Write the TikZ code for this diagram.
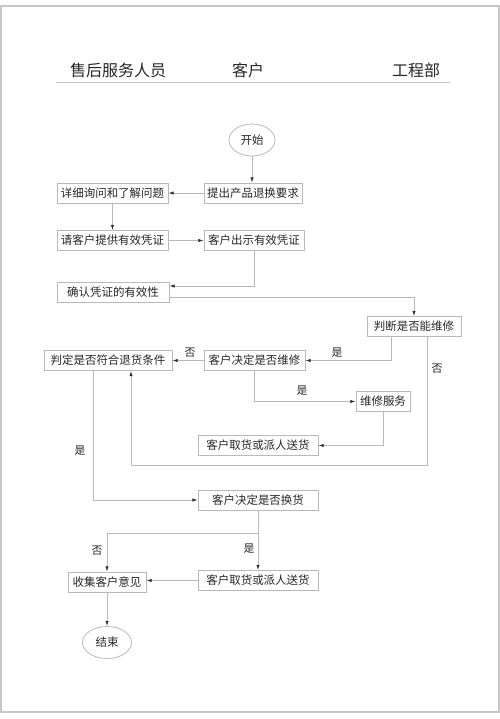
\documentclass[tikz,border=0pt]{standalone}
\usepackage{fontspec}
\newfontfamily\cjk{Noto Sans CJK SC}
\usetikzlibrary{arrows.meta,calc,shapes.geometric}

\begin{document}
\begin{tikzpicture}[x=0.75pt,y=0.75pt,yscale=-1,xscale=1,
    box/.style={draw=gray!55,line width=0.6pt,inner sep=0pt,minimum width=#1*0.75pt,minimum height=15pt,text=black!85,font=\cjk\fontsize{8.6}{10}\selectfont},
    oval/.style={ellipse,draw=gray!55,line width=0.6pt,inner sep=0pt,minimum width=#1*0.75pt,minimum height=24pt,text=black!85,font=\cjk\fontsize{8.6}{10}\selectfont},
    line/.style={draw=gray!55,line width=0.6pt},
    arr/.style={line,-{Latex[length=4pt,width=2.6pt,color=black!80]}},
    lbl/.style={inner sep=0pt,text=black!85,font=\cjk\fontsize{8.2}{10}\selectfont},
    head/.style={inner sep=0pt,text=black!85,font=\cjk\fontsize{12}{14}\selectfont}]
    \useasboundingbox (0,0) rectangle (500,719);
    \draw [gray!45,line width=1pt] (1,6) rectangle (499,712);

    % lanes
    \node [head] (lane1) at (118,70) {售后服务人员};
    \node [head] (lane2) at (248,70) {客户};
    \node [head] (lane3) at (416,70) {工程部};
    \draw [gray!45,line width=0.6pt] (56,82) -- (450,82);

    \node [oval=46] (start) at (252,140) {开始};
    \node [box=98] (ask) at (253,193) {提出产品退换要求};
    \node [box=111] (inquire) at (112.5,193) {详细询问和了解问题};
    \node [box=111] (reqcert) at (112.5,240.5) {请客户提供有效凭证};
    \node [box=100] (showcert) at (254,240.5) {客户出示有效凭证};
    \node [box=112] (confirm) at (113,292) {确认凭证的有效性};
    \node [box=94] (judge) at (414,326.5) {判断是否能维修};
    \node [box=101] (decide) at (254.5,360.5) {客户决定是否维修};
    \node [box=128] (refund) at (108,360.5) {判定是否符合退货条件};
    \node [box=54] (repair) at (383,401.5) {维修服务};
    \node [box=120] (pickup1) at (258,445.5) {客户取货或派人送货};
    \node [box=120] (exchange) at (258,500) {客户决定是否换货};
    \node [box=120] (pickup2) at (258,580.5) {客户取货或派人送货};
    \node [box=78] (collect) at (107,582) {收集客户意见};
    \node [oval=49] (stop) at (107,642.5) {结束};

    \coordinate (back) at (131,465);
    \coordinate (split) at (258,533);

    \draw [arr] (start.south) -- (start.south |- ask.north);
    \draw [arr] (ask.west) -- (inquire.east);
    \draw [arr] (inquire.south) -- (reqcert.north);
    \draw [arr] (reqcert.east) -- (showcert.west);
    \draw [arr] (showcert.south) |- ($(confirm.east)+(0,-6)$);
    \draw [arr] ($(confirm.east)+(0,5)$) -| (judge.north);
    \draw [arr] ($(judge.south)+(-23,0)$) |- (decide.east);
    \draw [arr] ($(judge.south)+(13,0)$) |- (back) -- (back |- refund.south);
    \draw [arr] (decide.west) -- (refund.east);
    \draw [arr] (decide.south) |- (repair.west);
    \draw [arr] (repair.south) |- (pickup1.east);
    \draw [arr] ($(refund.south)+(-15,0)$) |- (exchange.west);
    \draw [arr] (exchange.south) -- (pickup2.north);
    \draw [arr] (split) -| (collect.north);
    \draw [arr] (pickup2.west) -- (pickup2.west -| collect.east);
    \draw [arr] (collect.south) -- (stop.north);

    \node [lbl] (yes1) at (337,353) {是};
    \node [lbl] (no1) at (437,369) {否};
    \node [lbl] (no2) at (190,353) {否};
    \node [lbl] (yes2) at (302,391) {是};
    \node [lbl] (yes3) at (80,451) {是};
    \node [lbl] (no3) at (97,551) {否};
    \node [lbl] (yes4) at (249,549) {是};
\end{tikzpicture}
\end{document}
